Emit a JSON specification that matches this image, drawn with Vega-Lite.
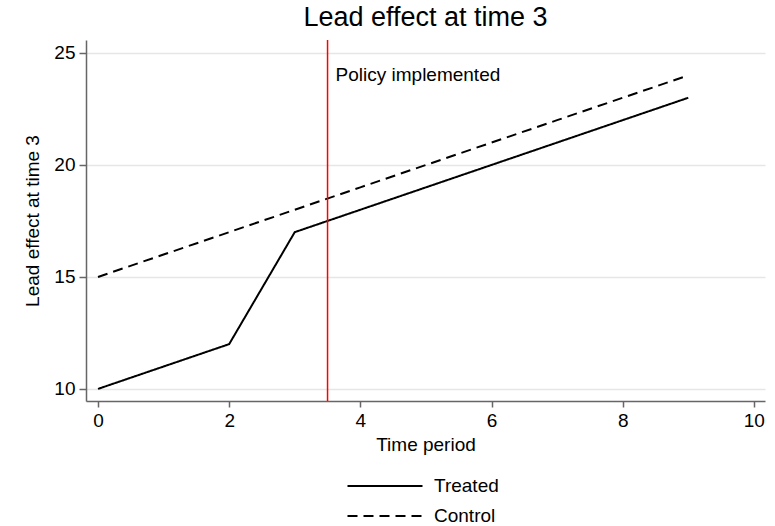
{
  "$schema": "https://vega.github.io/schema/vega-lite/v6.json",
  "width": 679,
  "height": 361,
  "autosize": {"type": "none"},
  "padding": {"left": 86, "top": 40, "right": 10, "bottom": 125},
  "background": "white",
  "config": {
    "font": "Liberation Sans",
    "view": {"stroke": null},
    "axis": {
      "labelFont": "Liberation Sans",
      "titleFont": "Liberation Sans",
      "labelFontSize": 19,
      "titleFontSize": 19,
      "titleFontWeight": "normal",
      "labelColor": "black",
      "titleColor": "black",
      "domainColor": "#666666",
      "domainWidth": 1.5,
      "tickColor": "#666666",
      "tickWidth": 1.5,
      "gridColor": "#e6e6e6",
      "gridWidth": 1.5
    },
    "title": {"font": "Liberation Sans", "fontSize": 27, "fontWeight": "normal", "color": "black"}
  },
  "title": {"text": "Lead effect at time 3", "anchor": "middle", "offset": 7},
  "datasets": {
    "series": [
      {"t": 0, "v": 10, "group": "Treated"},
      {"t": 1, "v": 11, "group": "Treated"},
      {"t": 2, "v": 12, "group": "Treated"},
      {"t": 3, "v": 17, "group": "Treated"},
      {"t": 4, "v": 18, "group": "Treated"},
      {"t": 5, "v": 19, "group": "Treated"},
      {"t": 6, "v": 20, "group": "Treated"},
      {"t": 7, "v": 21, "group": "Treated"},
      {"t": 8, "v": 22, "group": "Treated"},
      {"t": 9, "v": 23, "group": "Treated"},
      {"t": 0, "v": 15, "group": "Control"},
      {"t": 1, "v": 16, "group": "Control"},
      {"t": 2, "v": 17, "group": "Control"},
      {"t": 3, "v": 18, "group": "Control"},
      {"t": 4, "v": 19, "group": "Control"},
      {"t": 5, "v": 20, "group": "Control"},
      {"t": 6, "v": 21, "group": "Control"},
      {"t": 7, "v": 22, "group": "Control"},
      {"t": 8, "v": 23, "group": "Control"},
      {"t": 9, "v": 24, "group": "Control"}
    ],
    "policy": [{"t": 3.5, "v": 24, "label": "Policy implemented"}]
  },
  "layer": [
    {
      "data": {"name": "series"},
      "mark": {"type": "line", "color": "black", "strokeWidth": 2},
      "encoding": {
        "x": {
          "field": "t", "type": "quantitative",
          "scale": {"domain": [-0.183, 10.17], "nice": false, "zero": false},
          "axis": {"values": [0, 2, 4, 6, 8, 10], "format": "d", "grid": false, "title": "Time period", "tickSize": 6, "labelPadding": 4, "titlePadding": 5}
        },
        "y": {
          "field": "v", "type": "quantitative",
          "scale": {"domain": [9.46, 25.58], "nice": false, "zero": false},
          "axis": {"values": [10, 15, 20, 25], "format": "d", "grid": true, "title": "Lead effect at time 3", "tickSize": 7, "labelPadding": 4, "titlePadding": 11}
        },
        "strokeDash": {
          "field": "group", "type": "nominal",
          "scale": {"domain": ["Treated", "Control"], "range": [[1, 0], [10, 6]]},
          "legend": {
            "title": null,
            "orient": "none",
            "legendX": 283,
            "legendY": 430,
            "symbolType": "M-2.5,0H2.5",
            "symbolSize": 900,
            "symbolStrokeWidth": 2,
            "symbolStrokeColor": "black",
            "symbolFillColor": "transparent",
            "labelFontSize": 19,
            "labelFont": "Liberation Sans",
            "labelColor": "black",
            "labelOffset": 33,
            "rowPadding": 4,
            "padding": 0
          }
        }
      }
    },
    {
      "data": {"name": "policy"},
      "mark": {"type": "rule", "color": "#ff0000", "strokeWidth": 1.5},
      "encoding": {"x": {"field": "t", "type": "quantitative"}}
    },
    {
      "data": {"name": "policy"},
      "mark": {"type": "text", "align": "left", "baseline": "middle", "dx": 8, "fontSize": 19, "font": "Liberation Sans", "color": "black"},
      "encoding": {
        "x": {"field": "t", "type": "quantitative"},
        "y": {"field": "v", "type": "quantitative"},
        "text": {"field": "label"}
      }
    }
  ]
}
